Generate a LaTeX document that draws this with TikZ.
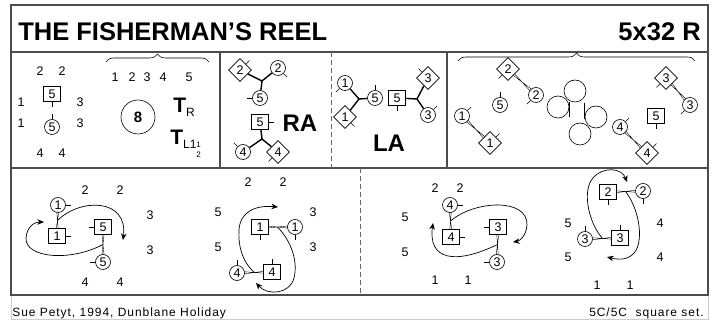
\documentclass[tikz,border=0pt]{standalone}
\usepackage{fontspec}
\setmainfont{Liberation Sans}
\usepackage{tikz}
\usetikzlibrary{calc,arrows.meta,shapes.geometric,backgrounds,decorations.pathreplacing}
\newcommand{\numfont}{\fontsize{12.5}{14}\selectfont}
\newcommand{\headfont}{\fontsize{25.5}{28}\selectfont\bfseries}
\newcommand{\footfont}{\fontsize{12}{13}\selectfont\addfontfeatures{LetterSpace=8}}
\newcommand{\ticklen}{5pt}
\newcommand{\face}[2]{\draw (#1.#2) -- ($(#1.#2)!-\ticklen!(#1.center)$);}
\newcommand{\twist}[2]{\draw ($(#1)!1.8pt!90:(#2)$) -- ($(#2)!1.8pt!90:(#1)$)
   ($(#1)!1.8pt!-90:(#2)$) -- ($(#2)!1.8pt!-90:(#1)$);}

\begin{document}
\begin{tikzpicture}[x=1pt,y=-1pt,semithick,
    crc/.style={draw, circle, fill=white, inner sep=0pt, minimum size=15pt, font=\numfont},
    sqr/.style={draw, rectangle, fill=white, inner sep=0pt, minimum width=17pt, minimum height=15pt, font=\numfont},
    dmd/.style={draw, diamond, fill=white, inner sep=0pt, minimum size=23pt, font=\numfont},
    spot/.style={draw, circle, minimum size=22pt, inner sep=0pt},
    lbl/.style={font=\numfont, inner sep=0pt},
    arm/.style={line width=1.4pt},
    reel/.style={line width=0.7pt, -{Stealth[length=6.5pt,width=5.5pt,inset=2pt]}},
    frame/.style={line width=1.2pt, black!70},
    split/.style={line width=1pt, black!60, dash pattern=on 5pt off 3pt}]
      \useasboundingbox (0,0) rectangle (721,320);

          %%  frame and title %%
      \draw[black!20] (11,295) rectangle (708,319.5);
      \draw[frame] (11,5) rectangle (708,295);
      \draw[frame] (11,52) -- (708,52) (11,168) -- (708,168);
      \draw[frame] (220,52) -- (220,168) (447,52) -- (447,168);
      \draw[split] (331,52) -- (331,168) (360,168) -- (360,295);
      \node (title) at (18,41) [anchor=base west, inner sep=0pt, font=\headfont] {THE FISHERMAN'S REEL};
      \node (bars) at (701,41) [anchor=base east, inner sep=0pt, font=\headfont] {5x32 R};
      \node (auth) at (12,316.5) [anchor=base west, inner sep=0pt, font=\footfont] {Sue Petyt, 1994, Dunblane Holiday};
      \node (sets) at (704,316.5) [anchor=base east, inner sep=0pt, font=\footfont] {5C/5C\ \ square set.};

          %%  the set, the 8 and the turns %%
      \foreach \x/\y/\t [count=\i] in {40/71/2,62/71/2,21/102/1,80/102/3,21/123/1,80/123/3,40/153/4,62/153/4}
      { \node[lbl] (h\i) at (\x,\y) {\t};}
      \node (hs5) at (52,94) [sqr] {5};
      \node (hc5) at (52,127) [crc] {5};
      \face{hs5}{south} \face{hc5}{north}
      \foreach \x/\t in {115/1,132/2,147/3,163/4,189/5}
      { \node[lbl] (bar\t) at (\x,77) {\t};}
      \draw[decorate, decoration={brace, amplitude=8pt}] (106,62) -- (209,62);
      \node (eight) at (138,117) [draw, circle, minimum size=34pt, inner sep=0pt, font=\fontsize{15}{15}\selectfont\bfseries] {8};
      \node (tr) at (173,113) [anchor=base west, inner sep=0pt]
        {{\fontsize{21}{21}\selectfont\bfseries T}\raisebox{-4pt}{\fontsize{12}{12}\selectfont R}};
      \node (tl) at (170,145) [anchor=base west, inner sep=0pt]
        {{\fontsize{21}{21}\selectfont\bfseries T}\raisebox{-4pt}{\fontsize{12}{12}\selectfont L1}%
         {\fontsize{8}{8}\selectfont\rlap{\raisebox{-2.5pt}{1}}\raisebox{-12.5pt}{2}}};

          %%  right hands across %%
      \node (rd2) at (240,70) [dmd] {2};
      \node (rc2) at (278,68) [crc] {2};
      \node (rc5) at (260,98) [crc] {5};
      \node (rs5) at (260,122) [sqr] {5};
      \node (rc4) at (243,152) [crc] {4};
      \node (rd4) at (278,152) [dmd] {4};
      \coordinate (rj1) at (262,81);
      \coordinate (rj2) at (262,139);
      \draw[arm] (rd2) -- (rj1) -- (rc2) (rj1) -- (rc5) (rs5) -- (rj2) -- (rc4) (rj2) -- (rd4);
      \face{rd2}{45} \face{rc2}{315} \face{rc5}{west} \face{rs5}{east} \face{rc4}{135} \face{rd4}{225}
      \node (ra) at (300,123.5) [font=\fontsize{24}{24}\selectfont\bfseries] {RA};

          %%  left hands across %%
      \node (lc1) at (345,83) [crc] {1};
      \node (ld1) at (345,117) [dmd] {1};
      \node (lc5) at (375,98) [crc] {5};
      \node (ls5) at (397,98) [sqr] {5};
      \node (ld3) at (428,78) [dmd] {3};
      \node (lc3) at (428,115) [crc] {3};
      \coordinate (lj1) at (359,99);
      \coordinate (lj2) at (417,99);
      \draw[arm] (lc1) -- (lj1) -- (ld1) (lj1) -- (lc5) (ls5) -- (lj2) -- (ld3) (lj2) -- (lc3);
      \face{lc1}{225} \face{ld1}{315} \face{lc5}{north} \face{ls5}{south} \face{ld3}{135} \face{lc3}{45}
      \node (la) at (389,143.5) [font=\fontsize{24}{24}\selectfont\bfseries] {LA};

          %%  the pairs and the four spots %%
      \node (md2) at (508,69) [dmd] {2};
      \node (mc2) at (536,95) [crc] {2};
      \node (mc5) at (500,105) [crc] {5};
      \node (mc1) at (462,116) [crc] {1};
      \node (md1) at (490,143) [dmd] {1};
      \node (md3) at (666,78) [dmd] {3};
      \node (mc3) at (690,105) [crc] {3};
      \node (ms5) at (656,116) [sqr] {5};
      \node (mc4) at (620,127) [crc] {4};
      \node (md4) at (647,153) [dmd] {4};
      \foreach \x/\y [count=\i] in {575/91,558/107,596/117,580/134}
      { \node (sp\i) at (\x,\y) [spot] {};}
      \draw (sp2.east) ++(0,-5) -- ++(0,15);
      \draw (sp3.west) ++(0,-14) -- ++(0,16);
      \begin{scope}[on background layer]
        \twist{md2}{mc2} \twist{mc1}{md1} \twist{md3}{mc3} \twist{mc4}{md4}
      \end{scope}
      \face{md2}{225} \face{mc2}{225} \face{mc5}{north} \face{mc1}{45} \face{md1}{45}
      \face{md3}{225} \face{mc3}{225} \face{ms5}{south} \face{mc4}{45} \face{md4}{45}
      \draw[decorate, decoration={brace, amplitude=8pt}] (458,61) -- (695,61);

          %%  reel, 1s and 5s %%
      \foreach \x/\y/\t [count=\i] in {85/190/2,120/190/2,150/215/3,150/250/3,85/282/4,120/282/4}
      { \node[lbl] (aa\i) at (\x,\y) {\t};}
      \node (ac1) at (58,205) [crc] {1};
      \node (as1) at (57,236) [sqr] {1};
      \node (as5) at (103,227) [sqr] {5};
      \node (ac5) at (103,262) [crc] {5};
      \begin{scope}[on background layer]
        \twist{ac1}{as1} \twist{as5}{ac5}
      \end{scope}
      \face{ac1}{east} \face{as1}{east} \face{as5}{west} \face{ac5}{west}
      \coordinate (am1) at ($(ac1)!0.5!(as1)$);
      \coordinate (ae1) at (123,240);
      \coordinate (am2) at ($(as5)!0.5!(ac5)$);
      \coordinate (ae2) at (44,222);
      \draw[reel] (am1) .. controls (80,198) and (128,198) .. (ae1);
      \draw[reel] (am2) .. controls (70,262) and (25,258) .. (26,238) .. controls (27,226) and (35,222) .. (ae2);

          %%  reel, 1s and 4s %%
      \foreach \x/\y/\t [count=\i] in {248/182/2,283/182/2,218/212/5,218/247/5,313/212/3,313/247/3}
      { \node[lbl] (bb\i) at (\x,\y) {\t};}
      \node (bs1) at (260,227) [sqr] {1};
      \node (bc1) at (295,227) [crc] {1};
      \node (bc4) at (237,273) [crc] {4};
      \node (bs4) at (272,272) [sqr] {4};
      \begin{scope}[on background layer]
        \twist{bs1}{bc1} \twist{bc4}{bs4}
      \end{scope}
      \face{bs1}{south} \face{bc1}{south} \face{bc4}{north} \face{bs4}{north}
      \coordinate (bm1) at ($(bc4)!0.5!(bs4)$);
      \coordinate (be1) at (278,207);
      \coordinate (bm2) at ($(bs1)!0.5!(bc1)$);
      \coordinate (be2) at (256,283);
      \draw[reel] (bm1) .. controls (242,262) and (238,245) .. (239,230) .. controls (240,212) and (255,205) .. (be1);
      \draw[reel] (bm2) .. controls (292,242) and (298,262) .. (294,278) .. controls (290,294) and (268,296) .. (be2);

          %%  reel, 4s and 3s %%
      \foreach \x/\y/\t [count=\i] in {435/188/2,460/188/2,405/217/5,405/252/5,435/280/1,468/280/1}
      { \node[lbl] (cc\i) at (\x,\y) {\t};}
      \node (cc4) at (450,205) [crc] {4};
      \node (cs4) at (451,237) [sqr] {4};
      \node (cs3) at (498,227) [sqr] {3};
      \node (cc3) at (497,262) [crc] {3};
      \begin{scope}[on background layer]
        \twist{cc4}{cs4} \twist{cs3}{cc3}
      \end{scope}
      \face{cc4}{east} \face{cs4}{east} \face{cs3}{west} \face{cc3}{west}
      \coordinate (cm1) at ($(cc4)!0.5!(cs4)$);
      \coordinate (ce1) at (513,242);
      \coordinate (cm2) at ($(cs3)!0.5!(cc3)$);
      \coordinate (ce2) at (433,223);
      \draw[reel] (cm1) .. controls (475,200) and (528,198) .. (527,225) .. controls (526,236) and (520,241) .. (ce1);
      \draw[reel] (cm2) .. controls (455,265) and (428,260) .. (ce2);

          %%  reel, 3s and 2s %%
      \foreach \x/\y/\t [count=\i] in {568/223/5,568/257/5,660/223/4,660/257/4,597/285/1,630/285/1}
      { \node[lbl] (dd\i) at (\x,\y) {\t};}
      \node (ds2) at (608,192) [sqr] {2};
      \node (dc2) at (643,191) [crc] {2};
      \node (dc3) at (585,239) [crc] {3};
      \node (ds3) at (620,238) [sqr] {3};
      \begin{scope}[on background layer]
        \twist{ds2}{dc2} \twist{dc3}{ds3}
      \end{scope}
      \face{ds2}{south} \face{dc2}{south} \face{dc3}{north} \face{ds3}{north}
      \coordinate (dm1) at ($(dc3)!0.5!(ds3)$);
      \coordinate (de1) at (627,182);
      \coordinate (dm2) at ($(ds2)!0.5!(dc2)$);
      \coordinate (de2) at (607,257);
      \draw[reel] (dm1) .. controls (588,222) and (582,190) .. (593,178) .. controls (603,166) and (622,168) .. (de1);
      \draw[reel] (dm2) .. controls (640,210) and (645,245) .. (632,255) .. controls (625,261) and (615,259) .. (de2);
\end{tikzpicture}
\end{document}
